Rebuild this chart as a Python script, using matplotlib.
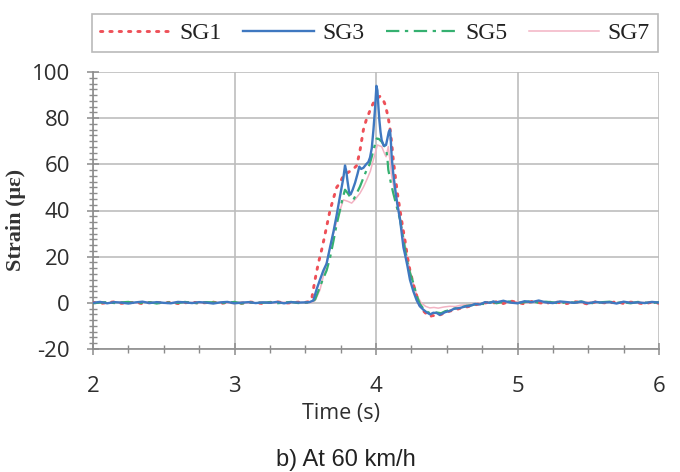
import numpy as np
import matplotlib
matplotlib.use("Agg")
import matplotlib.pyplot as plt
from matplotlib.ticker import MultipleLocator

# ---------------- data ----------------
labels = ["SG1", "SG3", "SG5", "SG7"]

# baseline sampling times (before and after the axle passage)
t_pre = np.round(np.arange(2.0, 3.501, 0.05), 3)      # 31 samples
t_post = np.round(np.arange(4.85, 6.001, 0.05), 3)    # 24 samples

sg1_pre = [0.2, -0.3, 0.1, 0.4, -0.2, 0.0, 0.3, -0.4, 0.1, 0.2, -0.1, 0.3, -0.3, 0.0, 0.4, -0.2,
           0.1, 0.3, -0.3, 0.2, 0.0, -0.2, 0.4, 0.1, -0.3, 0.2, 0.5, -0.1, 0.0, 0.3, 0.2]
sg3_pre = [0.0, 0.4, -0.2, 0.3, 0.1, -0.3, 0.2, 0.5, -0.1, 0.3, 0.0, -0.2, 0.4, 0.2, -0.1, 0.3,
           0.1, -0.3, 0.2, 0.4, -0.2, 0.1, 0.3, -0.1, 0.2, 0.0, 0.4, -0.2, 0.3, 0.1, 0.2]
sg5_pre = [-0.2, 0.1, 0.3, -0.1, 0.2, 0.4, -0.2, 0.0, 0.3, -0.3, 0.2, 0.1, -0.1, 0.4, 0.0, -0.2,
           0.3, 0.2, -0.1, 0.0, 0.4, -0.3, 0.1, 0.2, 0.0, 0.3, -0.2, 0.1, 0.4, -0.1, 0.1]
sg7_pre = [0.1, 0.0, -0.2, 0.2, 0.3, 0.0, -0.1, 0.2, 0.4, 0.0, -0.2, 0.1, 0.3, -0.1, 0.2, 0.0,
           -0.2, 0.3, 0.1, -0.1, 0.2, 0.3, -0.2, 0.0, 0.2, 0.1, -0.1, 0.3, 0.0, 0.2, 0.1]

sg1_post = [0.5, -0.3, 0.8, 0.2, -0.5, 0.6, 0.1, -0.4, 0.7, 0.0, -0.3, 0.5,
            0.2, -0.6, 0.4, 0.1, -0.2, 0.6, -0.3, 0.3, 0.0, -0.5, 0.4, -0.2]
sg3_post = [0.2, 0.9, 0.1, -0.2, 0.7, 0.3, 1.0, 0.2, -0.1, 0.6, 0.3, 0.0,
            0.5, -0.2, 0.4, 0.1, 0.3, -0.3, 0.5, 0.0, 0.2, -0.1, 0.4, 0.1]
sg5_post = [-0.2, 0.4, 0.6, -0.1, 0.3, 0.8, 0.0, 0.5, 0.2, -0.3, 0.4, 0.1,
            0.6, 0.0, -0.2, 0.3, 0.5, 0.0, 0.2, -0.2, 0.4, 0.1, -0.1, 0.3]
sg7_post = [0.3, 0.1, 0.4, 0.5, 0.0, 0.2, 0.4, 0.1, 0.3, 0.2, 0.0, 0.3,
            0.1, 0.4, 0.2, 0.0, 0.3, 0.1, 0.2, 0.3, 0.0, 0.2, 0.1, 0.2]

# event portion (time, strain)
sg1_t = [3.525, 3.545, 3.569, 3.592, 3.616, 3.634, 3.651, 3.675, 3.698, 3.722, 3.745, 3.769,
         3.790, 3.816, 3.840, 3.864, 3.887, 3.911, 3.930, 3.946, 3.965, 3.981, 4.005, 4.029,
         4.050, 4.064, 4.080, 4.087, 4.100, 4.111, 4.122, 4.134, 4.150, 4.170, 4.188, 4.205,
         4.222, 4.240, 4.264, 4.288, 4.310, 4.335, 4.360, 4.380, 4.400, 4.430, 4.460, 4.490,
         4.520, 4.560, 4.600, 4.640, 4.680, 4.720, 4.760, 4.800, 4.830]
sg1_v = [0.5, 1.5, 10, 17, 23, 28, 33, 40, 45, 50, 52, 55,
         56, 57, 58, 59.5, 66, 75, 79, 81.5, 84.5, 86.5, 88.5, 89.5,
         88, 86, 82, 80, 75, 69, 62, 56, 48, 40, 33, 27,
         20, 14, 8, 3, -1, -3.5, -5, -6, -5.5, -5.8, -5, -4.3,
         -3.6, -3, -2.3, -1.8, -1.2, -0.6, -0.2, 0.3, -0.2]

sg3_t = [3.530, 3.557, 3.581, 3.610, 3.628, 3.651, 3.675, 3.700, 3.722, 3.745, 3.769, 3.781,
         3.790, 3.798, 3.810, 3.821, 3.835, 3.852, 3.870, 3.882, 3.895, 3.911, 3.930, 3.946,
         3.958, 3.970, 3.982, 3.993, 4.003, 4.010, 4.018, 4.024, 4.032, 4.040, 4.055, 4.071,
         4.080, 4.090, 4.099, 4.105, 4.111, 4.122, 4.134, 4.150, 4.170, 4.194, 4.205, 4.222,
         4.240, 4.264, 4.288, 4.310, 4.335, 4.360, 4.382, 4.405, 4.429, 4.450, 4.464, 4.490,
         4.523, 4.550, 4.594, 4.630, 4.665, 4.700, 4.735, 4.770, 4.806, 4.830]
sg3_v = [0.3, 1.0, 6, 11, 14, 17, 24, 31, 38, 46, 54, 59.5,
         57, 53, 48, 47, 49, 52, 56, 59, 58, 58.5, 60, 61,
         63, 67, 75, 84, 94, 92, 84, 79, 74, 70.5, 68, 68.4,
         71, 74, 75, 70, 63, 56, 50, 43, 36, 24, 21, 16,
         10, 5, 1, -1.5, -3, -4.2, -5.0, -4.3, -4.4, -5.2, -4.8, -4.0,
         -3.5, -2.6, -2.2, -1.6, -1.3, -0.5, -0.7, 0.3, 0.0, 0.6]

sg5_t = [3.540, 3.570, 3.592, 3.604, 3.630, 3.651, 3.675, 3.700, 3.722, 3.745, 3.763, 3.781,
         3.800, 3.816, 3.840, 3.860, 3.887, 3.910, 3.934, 3.955, 3.970, 3.990, 4.005, 4.020,
         4.040, 4.058, 4.071, 4.080, 4.087, 4.105, 4.122, 4.145, 4.170, 4.195, 4.217, 4.240,
         4.264, 4.288, 4.310, 4.335, 4.360, 4.382, 4.405, 4.430, 4.460, 4.490, 4.520, 4.560,
         4.600, 4.640, 4.680, 4.720, 4.760, 4.800, 4.830]
sg5_v = [0.2, 1.5, 5, 7, 11, 14, 19.5, 27, 34, 40, 45, 49,
         47.5, 46, 44.6, 47, 50.4, 54, 57.6, 60, 63.3, 68, 71.2, 71,
         69.8, 68, 67, 63, 57.6, 52, 47.5, 42, 36, 27, 18.7, 13,
         8.6, 3, -0.5, -2.5, -3.8, -4.5, -4.0, -4.2, -4.5, -3.6, -3.2, -2.4,
         -2.0, -1.3, -1.0, -0.4, -0.5, 0.2, 0.4]

sg7_t = [3.540, 3.570, 3.604, 3.630, 3.660, 3.699, 3.735, 3.769, 3.800, 3.828, 3.855, 3.887,
         3.910, 3.934, 3.960, 3.981, 4.000, 4.010, 4.025, 4.040, 4.058, 4.071, 4.087, 4.098,
         4.111, 4.140, 4.170, 4.200, 4.230, 4.260, 4.290, 4.320, 4.350, 4.380, 4.410, 4.440,
         4.480, 4.520, 4.560, 4.600, 4.650, 4.700, 4.750, 4.800, 4.830]
sg7_v = [0.1, 1, 5.6, 12, 20, 30, 38, 44.6, 44, 43.2, 45, 47.5,
         50, 53.2, 57, 61.9, 66, 68.4, 68, 67.7, 65, 63.3, 67.7, 62,
         54.7, 46, 37.4, 27, 17, 9, 3, 0, -1.5, -2.2, -2.0, -2.3,
         -1.8, -1.5, -1.6, -1.0, -0.8, -0.3, -0.2, 0.2, 0.1]

x_ticks = [2, 3, 4, 5, 6]
y_ticks = [-20, 0, 20, 40, 60, 80, 100]


def full(pre, tt, vv, post):
    t = np.concatenate([t_pre, np.asarray(tt), t_post])
    v = np.concatenate([np.asarray(pre), np.asarray(vv), np.asarray(post)])
    return t, v


series = {
    "SG1": full(sg1_pre, sg1_t, sg1_v, sg1_post),
    "SG3": full(sg3_pre, sg3_t, sg3_v, sg3_post),
    "SG5": full(sg5_pre, sg5_t, sg5_v, sg5_post),
    "SG7": full(sg7_pre, sg7_t, sg7_v, sg7_post),
}

styles = {
    "SG1": dict(color="#ee5058", linestyle=(0, (0.8, 2.4)), linewidth=2.1, zorder=3,
                dash_capstyle="round"),
    "SG3": dict(color="#3f78c0", linestyle="-", linewidth=1.7, zorder=5),
    "SG5": dict(color="#35b070", linestyle=(0, (6, 2.5, 1.5, 2.5)), linewidth=1.6, zorder=4),
    "SG7": dict(color="#f3b3c3", linestyle="-", linewidth=1.1, zorder=2),
}

# ---------------- figure ----------------
fig = plt.figure(figsize=(6.8, 4.72), dpi=100)
ax = fig.add_axes([93 / 680, 1 - 349 / 472, 566 / 680, 277 / 472])

handles = []
for name in labels:
    t, v = series[name]
    h, = ax.plot(t, v, label=name, **styles[name])
    handles.append(h)

ax.set_xlim(2, 6)
ax.set_ylim(-20, 100)
ax.set_xticks(x_ticks)
ax.set_yticks(y_ticks)
ax.set_xticklabels([str(x) for x in x_ticks])
ax.set_yticklabels([str(y) for y in y_ticks])
ax.xaxis.set_minor_locator(MultipleLocator(0.25))
ax.yaxis.set_minor_locator(MultipleLocator(2.5))

gray = "#8c8c8c"
ax.grid(True, which="major", color="#bdbdbd", linewidth=1.2, zorder=0)
ax.set_axisbelow(True)
for s in ["top", "right"]:
    ax.spines[s].set_visible(False)
for s in ["left", "bottom"]:
    ax.spines[s].set_color(gray)
    ax.spines[s].set_linewidth(1.2)

sans = ["Open Sans", "DejaVu Sans"]
ax.tick_params(axis="both", which="major", direction="inout", length=9, width=1.1,
               color=gray)
ax.tick_params(axis="both", which="minor", direction="inout", length=6, width=1.0,
               color=gray)
ax.tick_params(axis="x", which="major", pad=15)
ax.tick_params(axis="y", which="major", pad=12)
for lab in ax.get_xticklabels() + ax.get_yticklabels():
    lab.set_fontfamily(sans)
    lab.set_fontsize(16)
    lab.set_color("#2e2e2e")

ax.set_ylabel("Strain (\u03bc\u03b5)", family=["Liberation Serif", "DejaVu Serif"],
              fontsize=16, fontweight="bold", color="#333333")
ax.yaxis.set_label_coords(-0.118, 0.466)
ax.set_xlabel("Time (s)", family=sans, fontsize=15.5, color="#2e2e2e")
ax.xaxis.set_label_coords(0.438, -0.195)

fig.text(346 / 680, 1 - 460 / 472, "b) At 60 km/h", family=["Liberation Sans", "DejaVu Sans"],
         fontsize=17, color="#222222", ha="center", va="center")

leg = fig.legend(handles, labels, loc="center", ncol=4, mode="expand",
                 bbox_to_anchor=(92 / 680, 1 - 53 / 472, 566 / 680, 40 / 472),
                 prop=dict(family=["Liberation Serif", "DejaVu Serif"], size=17),
                 frameon=True, fancybox=False, handlelength=3.0, handletextpad=0.35,
                 borderaxespad=0, borderpad=0.35)
leg.get_frame().set_edgecolor("#a8a8a8")
leg.get_frame().set_linewidth(1.2)
for txt in leg.get_texts():
    txt.set_color("#222222")

fig.savefig("out.png", dpi=100)
